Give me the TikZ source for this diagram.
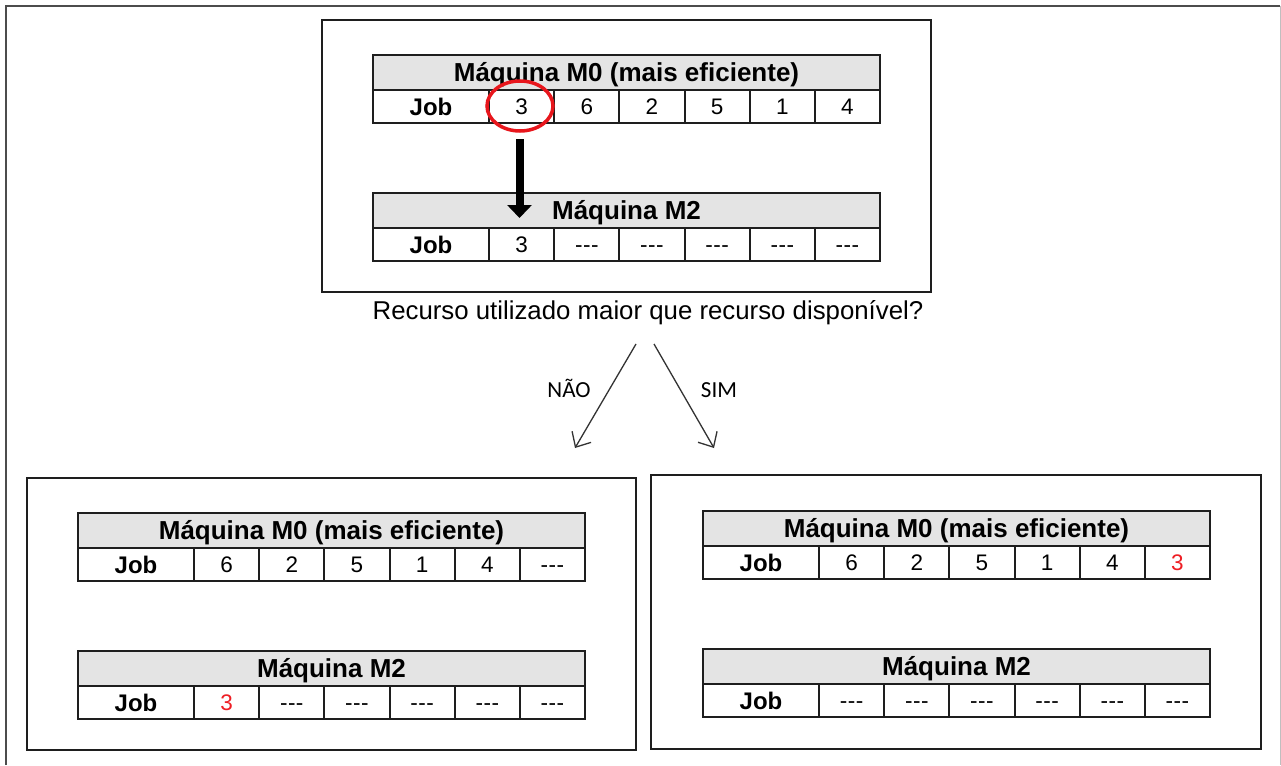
\documentclass[tikz,border=0pt]{standalone}
\usepackage{fontspec}
\setmainfont{Liberation Sans}
\newfontfamily\calib{Carlito}
\usetikzlibrary{arrows.meta,shapes.geometric}
\definecolor{hdrgray}{RGB}{228,228,228}
\definecolor{linec}{RGB}{30,30,30}
\definecolor{circred}{RGB}{232,22,28}
\definecolor{numred}{RGB}{238,30,36}
\newcommand{\dsh}{-\kern0.5pt-\kern0.5pt-}
\newcommand{\rd}[1]{\textcolor{numred}{#1}}
\tikzset{
  cellbase/.style={draw=linec, line width=2pt, inner sep=0pt, outer sep=0pt, anchor=north west},
  hdrcell/.style={cellbase, fill=hdrgray, minimum width=507pt, minimum height=35pt,
    text height=18.6pt, text depth=0pt, font=\fontsize{26}{26}\selectfont\bfseries},
  jobcell/.style={cellbase, minimum width=116pt, minimum height=33pt,
    text height=17.2pt, text depth=0pt, font=\fontsize{24}{24}\selectfont\bfseries},
  numcell/.style={cellbase, minimum width=65.17pt, minimum height=33pt,
    text height=16.1pt, text depth=0pt, font=\fontsize{22.5}{22.5}\selectfont},
  framebox/.style={draw=linec, line width=2pt, inner sep=0pt, outer sep=0pt, anchor=north west},
  flowarrow/.style={draw=black!80, line width=1.3pt, -{Straight Barb[length=12pt,width=22pt]}},
  biglabel/.style={font=\fontsize{25.8}{25.8}\selectfont, inner sep=0pt},
  branchlabel/.style={font=\calib\fontsize{23}{23}\selectfont, inner sep=0pt}
}
\newcommand{\jobtable}[5]{%
  \node[hdrcell] (#1h) at (#2,#3) {#4};
  \node[jobcell] (#1c0) at (#1h.south west) {Job};
  \foreach \v [count=\i] in {#5} {
    \pgfmathtruncatemacro\prv{\i-1}
    \node[numcell] (#1c\i) at (#1c\prv.north east) {\v};
  }
}
\begin{document}
\begin{tikzpicture}[x=1pt,y=-1pt]
\useasboundingbox (0,0) rectangle (1281,765);
\fill[white] (0,0) rectangle (1281,765);
% outer frame
\draw[black!70, line width=2.5pt] (6,765) -- (6,6) -- (1280,6);
\draw[black!25, line width=1pt] (1280,6) -- (1280,765);

% boxes
\node[framebox, minimum width=609pt, minimum height=272pt] (topbox) at (322,20) {};
\node[framebox, minimum width=609pt, minimum height=272pt] (leftbox) at (27,478) {};
\node[framebox, minimum width=610pt, minimum height=274pt] (rightbox) at (651,475) {};

% top tables
\jobtable{ta}{373}{55}{Máquina M0 (mais eficiente)}{3,6,2,5,1,4}
\jobtable{tb}{373}{193}{Máquina M2}{3,\dsh,\dsh,\dsh,\dsh,\dsh}

% left tables
\jobtable{la}{78}{513}{Máquina M0 (mais eficiente)}{6,2,5,1,4,\dsh}
\jobtable{lb}{78}{651}{Máquina M2}{\rd{3},\dsh,\dsh,\dsh,\dsh,\dsh}

% right tables
\jobtable{ra}{703}{511}{Máquina M0 (mais eficiente)}{6,2,5,1,4,\rd{3}}
\jobtable{rb}{703}{649}{Máquina M2}{\dsh,\dsh,\dsh,\dsh,\dsh,\dsh}

% red circle and thick arrow
\node[ellipse, draw=circred, line width=3.5pt, minimum width=66pt, minimum height=50pt, inner sep=0pt] (circ) at (520,106) {};
\coordinate (mvS) at (519.5,139);
\coordinate (mvE) at (519.5,218);
\draw[line width=8pt, -{Triangle[length=13pt,width=24pt]}] (mvS) -- (mvE);

% question and branches
\node[biglabel] (quest) at (648,313) {Recurso utilizado maior que recurso disponível?};
\coordinate (naoS) at (636,344);
\coordinate (naoE) at (575,448);
\coordinate (simS) at (654,344);
\coordinate (simE) at (714,448);
\draw[flowarrow] (naoS) -- (naoE);
\draw[flowarrow] (simS) -- (simE);
\node[branchlabel] (nao) at (569,388) {NÃO};
\node[branchlabel] (sim) at (719,390) {SIM};
\end{tikzpicture}
\end{document}
